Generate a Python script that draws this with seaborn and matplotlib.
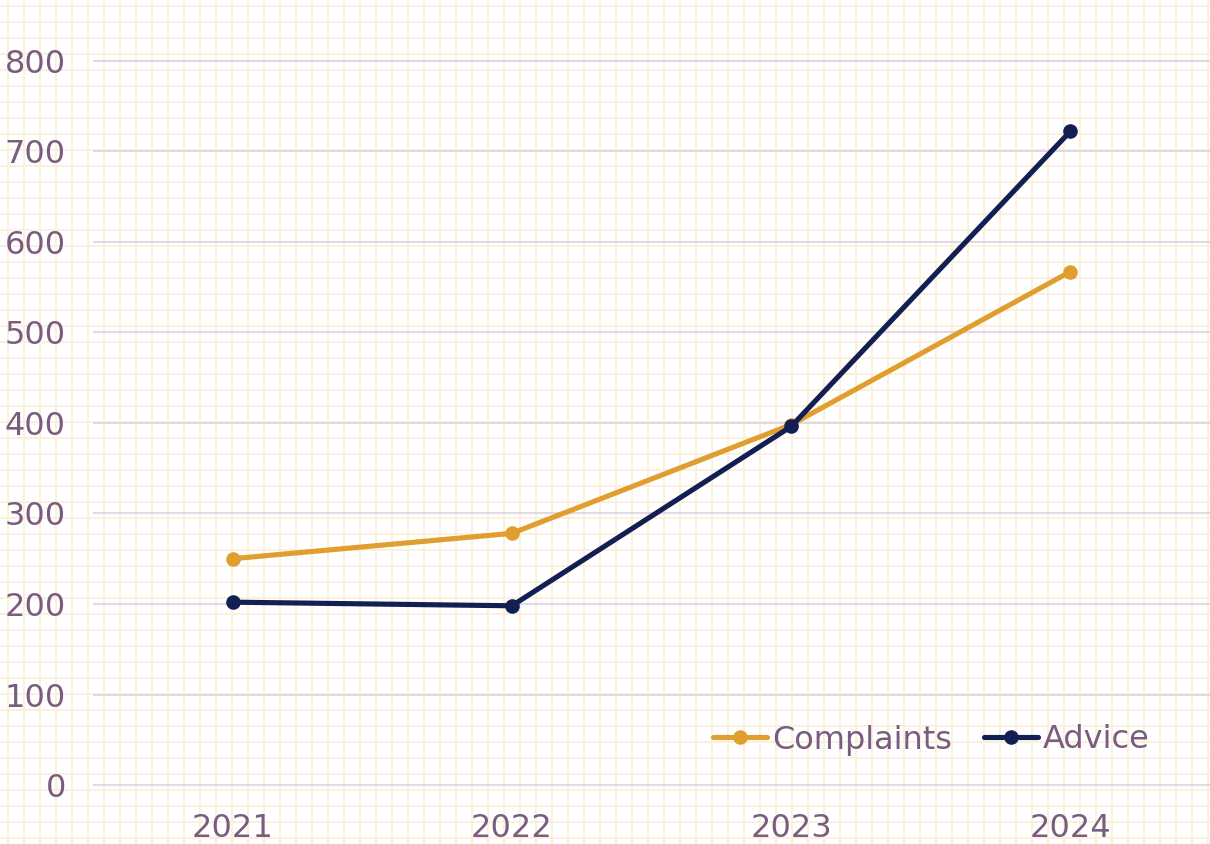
import pandas as pd
import numpy as np
import matplotlib
matplotlib.use("Agg")
import matplotlib.pyplot as plt
import seaborn as sns

years = [2021, 2022, 2023, 2024]
complaints = [250, 278, 398, 567]
advice = [202, 198, 396, 722]
series_names = ["Complaints", "Advice"]
y_ticks = [0, 100, 200, 300, 400, 500, 600, 700, 800]

df = pd.DataFrame({
    "year": years * 2,
    "value": complaints + advice,
    "series": [series_names[0]] * 4 + [series_names[1]] * 4,
})

sns.set_theme(style="white")
plt.rcParams["font.family"] = ["DejaVu Sans"]

W, H = 1210, 844
fig = plt.figure(figsize=(W / 100, H / 100), dpi=100)
fig.patch.set_facecolor("white")

# squared paper background
bg = fig.add_axes([0, 0, 1, 1], zorder=-1)
bg.set_xlim(0, W)
bg.set_ylim(H, 0)
bg.axis("off")
grid_col = "#FBF0DC"
bg.vlines(np.arange(8, W, 16), 0, H, color=grid_col, lw=1.44, antialiased=False)
bg.hlines(np.arange(6, H, 16), 0, W, color=grid_col, lw=1.44, antialiased=False)

ax = fig.add_axes([93 / W, 39 / H, 1117 / W, 805 / H])
ax.set_facecolor("none")

palette = {"Complaints": "#E19E30", "Advice": "#131E52"}
sns.lineplot(data=df, x="year", y="value", hue="series", palette=palette,
             marker="o", markersize=10.5, markeredgewidth=0, linewidth=3.7,
             ax=ax)

ax.set_xlim(2020.5, 2024.5)
ax.set_ylim(-22, 867)
ax.set_xticks(years)
ax.set_yticks(y_ticks)
ax.set_xlabel("")
ax.set_ylabel("")
ax.grid(axis="y", color="#E0D8E3", linewidth=1.5)
ax.set_axisbelow(True)
for s in ax.spines.values():
    s.set_visible(False)

text_col = "#7A5C80"
ax.tick_params(axis="y", length=0, pad=19.5, labelsize=23, labelcolor=text_col)
ax.tick_params(axis="x", length=0, pad=6, labelsize=23, labelcolor=text_col)

ax.legend(loc="center right", bbox_to_anchor=(1150 / W, (H - 740) / H),
          bbox_transform=fig.transFigure, ncol=2, frameon=False,
          fontsize=23, labelcolor=text_col, handlelength=1.7,
          handletextpad=0.15, columnspacing=1.0, borderaxespad=0,
          borderpad=0)

fig.savefig("out.png", dpi=100)
